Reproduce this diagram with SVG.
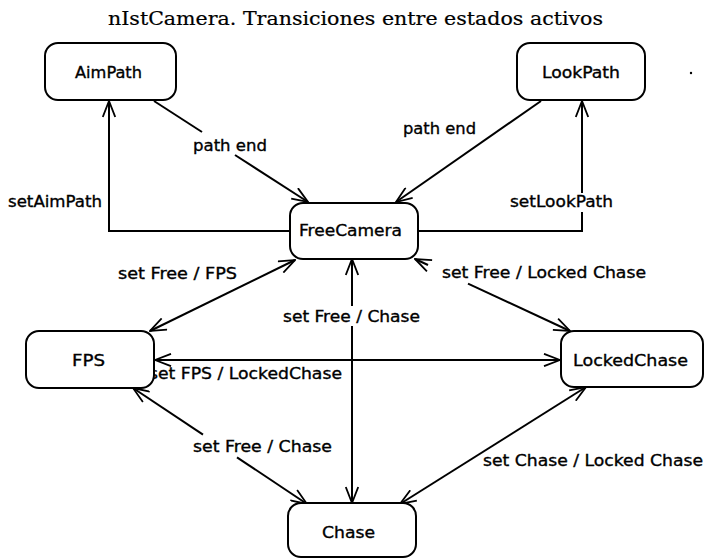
<svg xmlns="http://www.w3.org/2000/svg" width="706" height="559" viewBox="0 0 706 559">
  <style>
    .state { fill: #fff; stroke: #000; stroke-width: 2; }
    .name, .lbl { font-family: "DejaVu Sans", "Liberation Sans", Arial, sans-serif; font-size: 16px; fill: #000; stroke: #000; stroke-width: 0.35; }
    .title { font-family: "DejaVu Serif", "Liberation Serif", serif; font-size: 18px; fill: #000; stroke: #000; stroke-width: 0.2; }
    .edge { fill: none; stroke: #000; stroke-width: 2; }
  </style>
  <defs>
    <marker id="arr" viewBox="0 0 18 14" refX="17" refY="7" markerWidth="18" markerHeight="14" markerUnits="userSpaceOnUse" orient="auto-start-reverse">
      <path d="M1,0.8 L17,7 L1,13.2" fill="none" stroke="#000" stroke-width="1.8"/>
    </marker>
  </defs>

  <rect width="706" height="559" fill="#fff"/>

  <text class="title" x="108" y="25" textLength="495" lengthAdjust="spacingAndGlyphs">nIstCamera. Transiciones entre estados activos</text>

  <!-- transitions -->
  <g id="connectors">
    <!-- AimPath -> FreeCamera : path end -->
    <path class="edge" d="M154,101 L202,132"/>
    <path class="edge" d="M235,155 L308,202" marker-end="url(#arr)"/>
    <!-- LookPath -> FreeCamera : path end -->
    <path class="edge" d="M541,101 L396,202" marker-end="url(#arr)"/>
    <!-- FreeCamera -> AimPath : setAimPath -->
    <path class="edge" d="M290,231 L109,231 L109,101" marker-end="url(#arr)"/>
    <!-- FreeCamera -> LookPath : setLookPath -->
    <path class="edge" d="M418,231 L582,231 L582,212"/>
    <path class="edge" d="M582,193 L582,101" marker-end="url(#arr)"/>
    <!-- FreeCamera <-> FPS -->
    <path class="edge" d="M150,331 L295,260" marker-start="url(#arr)" marker-end="url(#arr)"/>
    <!-- FreeCamera <-> Chase -->
    <path class="edge" d="M352,259 L352,306" marker-start="url(#arr)"/>
    <path class="edge" d="M352,326 L352,503" marker-end="url(#arr)"/>
    <!-- FPS <-> LockedChase -->
    <path class="edge" d="M155,360 L560,360" marker-start="url(#arr)" marker-end="url(#arr)"/>
    <!-- FreeCamera <-> LockedChase -->
    <path class="edge" d="M415,259 L428,265" marker-start="url(#arr)"/>
    <path class="edge" d="M468,283.6 L570,331" marker-end="url(#arr)"/>
    <!-- FPS <-> Chase -->
    <path class="edge" d="M133,388 L203,434.7" marker-start="url(#arr)"/>
    <path class="edge" d="M237,457.3 L307,504" marker-end="url(#arr)"/>
    <!-- LockedChase <-> Chase -->
    <path class="edge" d="M586,387 L400,504" marker-start="url(#arr)" marker-end="url(#arr)"/>
  </g>

  <!-- transition labels -->
  <g id="labels">
    <text class="lbl" x="193" y="151" textLength="74" lengthAdjust="spacingAndGlyphs">path end</text>
    <text class="lbl" x="403" y="134" textLength="73" lengthAdjust="spacingAndGlyphs">path end</text>
    <text class="lbl" x="8" y="207" textLength="94" lengthAdjust="spacingAndGlyphs">setAimPath</text>
    <text class="lbl" x="510" y="207" textLength="103" lengthAdjust="spacingAndGlyphs">setLookPath</text>
    <text class="lbl" x="118" y="279" textLength="119" lengthAdjust="spacingAndGlyphs">set Free / FPS</text>
    <text class="lbl" x="283" y="322" textLength="137" lengthAdjust="spacingAndGlyphs">set Free / Chase</text>
    <text class="lbl" x="149" y="379" textLength="193" lengthAdjust="spacingAndGlyphs">set FPS / LockedChase</text>
    <text class="lbl" x="442" y="278" textLength="204" lengthAdjust="spacingAndGlyphs">set Free / Locked Chase</text>
    <text class="lbl" x="193" y="452" textLength="139" lengthAdjust="spacingAndGlyphs">set Free / Chase</text>
    <text class="lbl" x="483" y="466" textLength="220" lengthAdjust="spacingAndGlyphs">set Chase / Locked Chase</text>
  </g>

  <!-- states -->
  <g id="AimPath">
    <rect class="state" x="45" y="43" width="131" height="57" rx="13"/>
    <text class="name" x="75" y="78" textLength="67" lengthAdjust="spacingAndGlyphs">AimPath</text>
  </g>
  <g id="LookPath">
    <rect class="state" x="517" y="43" width="128" height="57" rx="13"/>
    <text class="name" x="542" y="78" textLength="78" lengthAdjust="spacingAndGlyphs">LookPath</text>
  </g>
  <g id="FreeCamera">
    <rect class="state" x="290" y="203" width="128" height="56" rx="13"/>
    <text class="name" x="299" y="236" textLength="103" lengthAdjust="spacingAndGlyphs">FreeCamera</text>
  </g>
  <g id="FPS">
    <rect class="state" x="26" y="331" width="128" height="57" rx="13"/>
    <text class="name" x="72" y="366" textLength="33" lengthAdjust="spacingAndGlyphs">FPS</text>
  </g>
  <g id="LockedChase">
    <rect class="state" x="561" y="331" width="142" height="56" rx="13"/>
    <text class="name" x="573" y="366" textLength="115" lengthAdjust="spacingAndGlyphs">LockedChase</text>
  </g>
  <g id="Chase">
    <rect class="state" x="288" y="503" width="128" height="54" rx="13"/>
    <text class="name" x="322" y="538" textLength="53" lengthAdjust="spacingAndGlyphs">Chase</text>
  </g>

  <circle cx="691" cy="73" r="1.2" fill="#000"/>
</svg>
